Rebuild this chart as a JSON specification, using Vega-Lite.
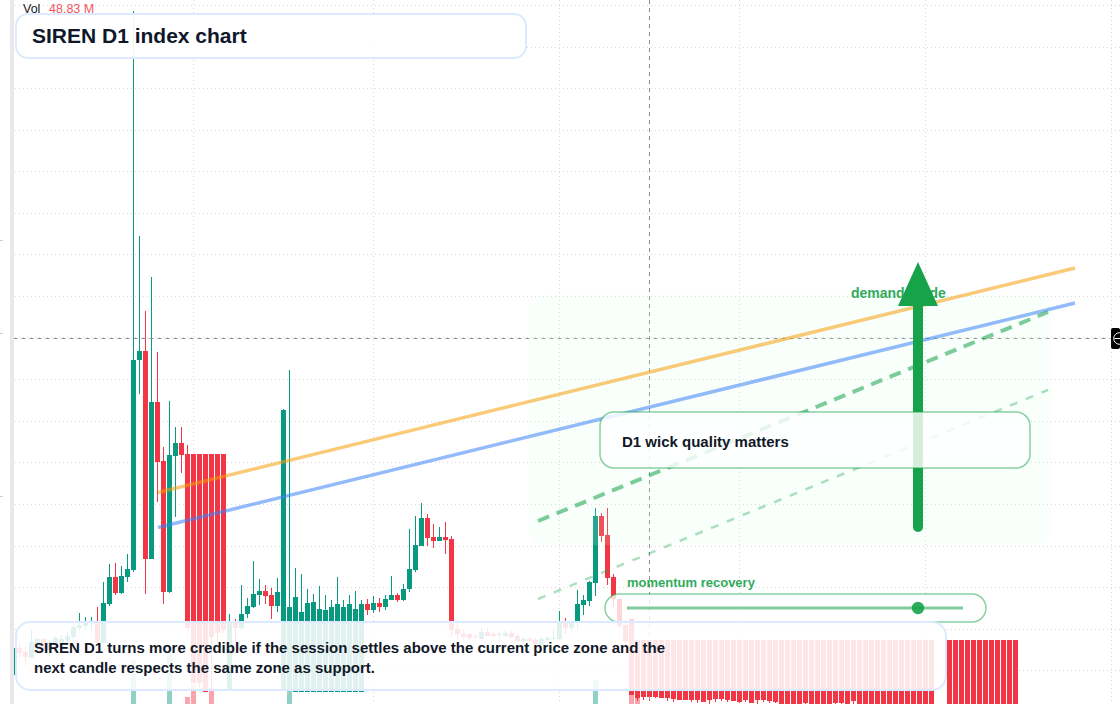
{
  "$schema": "https://vega.github.io/schema/vega-lite/v6.json",
  "width": 1120,
  "height": 704,
  "padding": 0,
  "autosize": {"type": "none"},
  "background": "#ffffff",
  "config": {
    "view": {"stroke": null},
    "axis": {"disable": true},
    "legend": {"disable": true},
    "text": {"font": "Liberation Sans"}
  },
  "datasets": {
    "candles": [
      {"t":0,"o":2.9,"h":5.6,"l":2.9,"c":5.6},{"t":1,"o":5.6,"h":6.2,"l":4.7,"c":5.1},{"t":2,"o":5.2,"h":5.7,"l":3.9,"c":4.7},{"t":3,"o":4.6,"h":7.4,"l":4.6,"c":6.2},
      {"t":4,"o":5.6,"h":6.6,"l":5.4,"c":6.5},{"t":5,"o":6.5,"h":6.6,"l":5.4,"c":5.4},{"t":6,"o":5.4,"h":6.4,"l":4.7,"c":6.2},{"t":7,"o":6.1,"h":6.8,"l":5.4,"c":6.6},
      {"t":8,"o":6.1,"h":6.9,"l":5.6,"c":6.5},{"t":9,"o":6.4,"h":7.2,"l":6.2,"c":6.8},{"t":10,"o":6.7,"h":8.0,"l":6.4,"c":7.7},{"t":11,"o":7.6,"h":9.1,"l":7.4,"c":7.9},
      {"t":12,"o":7.8,"h":8.7,"l":7.4,"c":8.2},{"t":13,"o":8.1,"h":8.7,"l":7.4,"c":8.3},{"t":14,"o":8.3,"h":9.7,"l":6.1,"c":6.1},{"t":15,"o":6.1,"h":12.2,"l":6.1,"c":10.1},
      {"t":16,"o":10.0,"h":14.0,"l":9.8,"c":12.7},{"t":17,"o":12.7,"h":14.1,"l":10.9,"c":11.1},{"t":18,"o":11.1,"h":13.8,"l":11.0,"c":12.8},{"t":19,"o":12.7,"h":15.0,"l":12.2,"c":13.5},
      {"t":20,"o":13.4,"h":69.3,"l":13.2,"c":34.4},{"t":21,"o":34.4,"h":46.8,"l":31.0,"c":35.3},{"t":22,"o":35.3,"h":39.3,"l":11.0,"c":14.5},{"t":23,"o":14.5,"h":42.7,"l":14.5,"c":30.2},
      {"t":24,"o":30.2,"h":35.2,"l":20.2,"c":24.2},{"t":25,"o":24.3,"h":25.7,"l":10.0,"c":11.2},{"t":26,"o":11.2,"h":30.3,"l":11.1,"c":24.9},{"t":27,"o":24.8,"h":27.7,"l":18.7,"c":26.1},
      {"t":28,"o":26.1,"h":27.7,"l":23.1,"c":24.9},{"t":29,"o":25.0,"h":25.9,"l":7.3,"c":7.6},{"t":30,"o":25.0,"h":25.0,"l":2.1,"c":2.1},{"t":31,"o":25.0,"h":25.0,"l":1.7,"c":2.1},
      {"t":32,"o":25.0,"h":25.0,"l":1.2,"c":1.2},{"t":33,"o":25.0,"h":25.0,"l":1.4,"c":6.7},{"t":34,"o":25.0,"h":25.0,"l":6.1,"c":7.1},{"t":35,"o":25.0,"h":25.0,"l":7.1,"c":7.4},
      {"t":36,"o":1.3,"h":9.0,"l":1.3,"c":8.2},{"t":37,"o":8.3,"h":8.5,"l":6.1,"c":7.6},{"t":38,"o":7.6,"h":11.9,"l":7.4,"c":9.0},{"t":39,"o":9.0,"h":10.6,"l":8.6,"c":9.8},
      {"t":40,"o":9.7,"h":14.3,"l":9.6,"c":11.0},{"t":41,"o":10.9,"h":12.5,"l":9.9,"c":11.3},{"t":42,"o":11.3,"h":11.9,"l":10.0,"c":10.8},{"t":43,"o":10.9,"h":11.6,"l":8.5,"c":9.8},
      {"t":44,"o":9.8,"h":12.6,"l":9.2,"c":11.2},{"t":45,"o":1.3,"h":29.5,"l":1.3,"c":29.4},{"t":46,"o":1.3,"h":33.4,"l":1.3,"c":9.7},{"t":47,"o":1.2,"h":13.6,"l":1.2,"c":10.7},
      {"t":48,"o":1.2,"h":13.0,"l":1.2,"c":9.2},{"t":49,"o":1.2,"h":11.5,"l":1.2,"c":10.1},{"t":50,"o":1.2,"h":11.0,"l":1.2,"c":10.2},{"t":51,"o":1.2,"h":11.8,"l":1.2,"c":9.5},
      {"t":52,"o":1.2,"h":10.9,"l":1.2,"c":9.4},{"t":53,"o":1.2,"h":10.4,"l":1.2,"c":9.7},{"t":54,"o":1.2,"h":12.7,"l":1.2,"c":10.0},{"t":55,"o":1.2,"h":10.4,"l":1.2,"c":9.7},
      {"t":56,"o":1.2,"h":10.9,"l":1.2,"c":10.0},{"t":57,"o":1.2,"h":11.3,"l":1.2,"c":9.5},{"t":58,"o":1.2,"h":10.4,"l":1.2,"c":10.0},{"t":59,"o":10.0,"h":10.5,"l":8.9,"c":9.4},
      {"t":60,"o":9.4,"h":10.8,"l":9.1,"c":10.1},{"t":61,"o":10.1,"h":10.6,"l":9.2,"c":9.7},{"t":62,"o":9.7,"h":10.9,"l":9.4,"c":10.5},{"t":63,"o":10.4,"h":12.8,"l":10.4,"c":10.9},
      {"t":64,"o":10.9,"h":11.1,"l":10.2,"c":10.4},{"t":65,"o":10.4,"h":12.0,"l":10.3,"c":11.5},{"t":66,"o":11.5,"h":17.5,"l":11.2,"c":13.5},{"t":67,"o":13.4,"h":18.8,"l":13.2,"c":15.9},
      {"t":68,"o":15.8,"h":20.1,"l":15.8,"c":18.6},{"t":69,"o":18.6,"h":19.0,"l":15.8,"c":16.6},{"t":70,"o":16.7,"h":18.0,"l":15.6,"c":16.3},{"t":71,"o":16.3,"h":17.7,"l":16.3,"c":16.7},
      {"t":72,"o":16.7,"h":18.2,"l":15.0,"c":16.4},{"t":73,"o":16.5,"h":16.8,"l":6.8,"c":7.4},{"t":74,"o":7.5,"h":8.0,"l":6.4,"c":7.0},{"t":75,"o":7.0,"h":7.4,"l":6.5,"c":6.7},
      {"t":76,"o":7.0,"h":7.1,"l":6.4,"c":6.6},{"t":77,"o":6.8,"h":7.0,"l":6.5,"c":6.7},{"t":78,"o":6.5,"h":7.6,"l":6.5,"c":7.2},{"t":79,"o":7.2,"h":7.5,"l":6.8,"c":6.8},
      {"t":80,"o":7.0,"h":7.3,"l":6.7,"c":6.8},{"t":81,"o":6.9,"h":7.3,"l":6.6,"c":7.0},{"t":82,"o":6.8,"h":7.3,"l":6.7,"c":7.1},{"t":83,"o":7.1,"h":7.3,"l":6.6,"c":6.7},
      {"t":84,"o":6.8,"h":7.0,"l":6.2,"c":6.3},{"t":85,"o":6.3,"h":6.7,"l":6.2,"c":6.5},{"t":86,"o":6.5,"h":6.7,"l":6.2,"c":6.3},{"t":87,"o":6.4,"h":6.6,"l":5.9,"c":6.0},
      {"t":88,"o":5.9,"h":6.7,"l":5.9,"c":6.5},{"t":89,"o":6.4,"h":6.8,"l":6.3,"c":6.6},{"t":90,"o":6.5,"h":7.6,"l":6.4,"c":6.6},{"t":91,"o":6.5,"h":9.3,"l":6.4,"c":8.2},
      {"t":92,"o":8.2,"h":8.6,"l":7.0,"c":7.6},{"t":93,"o":7.6,"h":8.2,"l":7.4,"c":8.2},{"t":94,"o":8.2,"h":11.4,"l":7.5,"c":10.0},{"t":95,"o":9.9,"h":10.9,"l":8.9,"c":10.4},
      {"t":96,"o":10.3,"h":12.3,"l":9.8,"c":12.2},{"t":97,"o":12.1,"h":19.6,"l":10.8,"c":18.8},{"t":98,"o":18.8,"h":19.1,"l":16.2,"c":16.8},{"t":99,"o":16.9,"h":19.6,"l":11.9,"c":12.6},
      {"t":100,"o":12.7,"h":13.0,"l":9.7,"c":10.5},{"t":101,"o":10.5,"h":10.5,"l":7.6,"c":7.8},{"t":102,"o":7.9,"h":8.4,"l":6.1,"c":6.3},{"t":103,"o":8.5,"h":8.5,"l":0.9,"c":0.9},
      {"t":104,"o":6.4,"h":6.4,"l":0.3,"c":0.6},{"t":105,"o":6.4,"h":6.4,"l":0.4,"c":0.7},{"t":106,"o":6.4,"h":6.4,"l":0.3,"c":0.7},{"t":107,"o":6.4,"h":6.4,"l":0.6,"c":0.7},
      {"t":108,"o":6.4,"h":6.4,"l":0.6,"c":0.6},{"t":109,"o":6.4,"h":6.4,"l":0.3,"c":0.6},{"t":110,"o":6.4,"h":6.4,"l":0.2,"c":0.5},{"t":111,"o":6.4,"h":6.4,"l":0.4,"c":0.4},
      {"t":112,"o":6.4,"h":6.4,"l":0.4,"c":0.4},{"t":113,"o":6.4,"h":6.4,"l":0.2,"c":0.4},{"t":114,"o":6.4,"h":6.4,"l":0.1,"c":0.4},{"t":115,"o":6.4,"h":6.4,"l":0.2,"c":0.2},
      {"t":116,"o":6.4,"h":6.4,"l":0,"c":0.4},{"t":117,"o":6.4,"h":6.4,"l":0.2,"c":0.5},{"t":118,"o":6.4,"h":6.4,"l":0.3,"c":0.5},{"t":119,"o":6.4,"h":6.4,"l":0.2,"c":0.4},
      {"t":120,"o":6.4,"h":6.4,"l":0.3,"c":0.3},{"t":121,"o":6.4,"h":6.4,"l":0.1,"c":0.2},{"t":122,"o":6.4,"h":6.4,"l":0.2,"c":0.4},{"t":123,"o":6.4,"h":6.4,"l":0.1,"c":0.1},
      {"t":124,"o":6.4,"h":6.4,"l":0,"c":0.4},{"t":125,"o":6.4,"h":6.4,"l":0.2,"c":0.4},{"t":126,"o":6.4,"h":6.4,"l":0.1,"c":0.3},{"t":127,"o":6.4,"h":6.4,"l":0.1,"c":0.2},
      {"t":128,"o":6.4,"h":6.4,"l":0,"c":0},{"t":129,"o":6.4,"h":6.4,"l":0,"c":0},{"t":130,"o":6.4,"h":6.4,"l":0,"c":0},{"t":131,"o":6.4,"h":6.4,"l":0,"c":0},
      {"t":132,"o":6.4,"h":6.4,"l":0,"c":0.1},{"t":133,"o":6.4,"h":6.4,"l":0,"c":0},{"t":134,"o":6.4,"h":6.4,"l":0,"c":0},{"t":135,"o":6.4,"h":6.4,"l":0,"c":0},
      {"t":136,"o":6.4,"h":6.4,"l":0,"c":0},{"t":137,"o":6.4,"h":6.4,"l":0,"c":0.1},{"t":138,"o":6.4,"h":6.4,"l":0,"c":0.1},{"t":139,"o":6.4,"h":6.4,"l":0,"c":0},
      {"t":140,"o":6.4,"h":6.4,"l":0,"c":0.3},{"t":141,"o":6.4,"h":6.4,"l":0,"c":0},{"t":142,"o":6.4,"h":6.4,"l":0,"c":0},{"t":143,"o":6.4,"h":6.4,"l":0,"c":0},
      {"t":144,"o":6.4,"h":6.4,"l":0,"c":0},{"t":145,"o":6.4,"h":6.4,"l":0,"c":0},{"t":146,"o":6.4,"h":6.4,"l":0,"c":0},{"t":147,"o":6.4,"h":6.4,"l":0,"c":0},
      {"t":148,"o":6.4,"h":6.4,"l":0,"c":0},{"t":149,"o":6.4,"h":6.4,"l":0,"c":0},{"t":150,"o":6.4,"h":6.4,"l":0,"c":0},{"t":151,"o":6.4,"h":6.4,"l":0,"c":0},
      {"t":152,"o":6.4,"h":6.4,"l":0,"c":0},{"t":153,"o":6.4,"h":6.4,"l":0,"c":0},
      {"t":156,"o":6.4,"h":6.4,"l":0,"c":0},{"t":157,"o":6.4,"h":6.4,"l":0,"c":0},{"t":158,"o":6.4,"h":6.4,"l":0,"c":0},{"t":159,"o":6.4,"h":6.4,"l":0,"c":0},
      {"t":160,"o":6.4,"h":6.4,"l":0,"c":0},{"t":161,"o":6.4,"h":6.4,"l":0,"c":0},{"t":162,"o":6.4,"h":6.4,"l":0,"c":0},{"t":163,"o":6.4,"h":6.4,"l":0,"c":0},
      {"t":164,"o":6.4,"h":6.4,"l":0,"c":0},{"t":165,"o":6.4,"h":6.4,"l":0,"c":0},{"t":166,"o":6.4,"h":6.4,"l":0,"c":0},{"t":167,"o":6.4,"h":6.4,"l":0,"c":0}
    ],
    "volume": [
      {"t":20,"v":4.4,"side":"up"},{"t":26,"v":5.2,"side":"up"},{"t":29,"v":0.7,"side":"down"},{"t":30,"v":1.9,"side":"down"},
      {"t":33,"v":1.6,"side":"down"},{"t":46,"v":2.4,"side":"up"},{"t":97,"v":2.4,"side":"up"},{"t":103,"v":0.9,"side":"down"},{"t":104,"v":0.6,"side":"down"}
    ]
  },
  "layer": [
    {
      "data": {"values": [{"p":69.85},{"p":65.65},{"p":61.55},{"p":57.35},{"p":53.25},{"p":49.05},{"p":44.95},{"p":40.75},{"p":36.65},{"p":32.45},{"p":28.25},{"p":24.15},{"p":19.95},{"p":15.75},{"p":11.65},{"p":7.45},{"p":3.35}]},
      "mark": {"type": "rule", "color": "#d9d9d9", "strokeWidth": 1, "strokeDash": [1, 3]},
      "encoding": {"y": {"field": "p", "type": "quantitative", "scale": {"domain": [0, 70.4], "nice": false, "zero": false, "padding": 0}}}
    },
    {
      "data": {"values": [{"t":30},{"t":60},{"t":91},{"t":121},{"t":152},{"t":183}]},
      "mark": {"type": "rule", "color": "#d9d9d9", "strokeWidth": 1, "strokeDash": [1, 3]},
      "encoding": {"x": {"field": "t", "type": "quantitative", "scale": {"domain": [-2.25, 184.4167], "nice": false, "zero": false, "padding": 0}}}
    },
    {
      "data": {"name": "candles"},
      "mark": {"type": "rule", "strokeWidth": 1},
      "encoding": {
        "x": {"field": "t", "type": "quantitative"},
        "y": {"field": "l", "type": "quantitative"},
        "y2": {"field": "h"},
        "color": {"condition": {"test": "datum.c >= datum.o", "value": "#089981"}, "value": "#f23645"}
      }
    },
    {
      "data": {"name": "candles"},
      "mark": {"type": "bar", "size": 5},
      "encoding": {
        "x": {"field": "t", "type": "quantitative"},
        "y": {"field": "o", "type": "quantitative"},
        "y2": {"field": "c"},
        "color": {"condition": {"test": "datum.c >= datum.o", "value": "#089981"}, "value": "#f23645"}
      }
    },
    {
      "data": {"name": "volume"},
      "mark": {"type": "bar", "size": 5, "opacity": 0.45},
      "encoding": {
        "x": {"field": "t", "type": "quantitative"},
        "y": {"field": "v", "type": "quantitative"},
        "y2": {"datum": 0},
        "color": {"condition": {"test": "datum.side == 'up'", "value": "#089981"}, "value": "#f23645"}
      }
    },
    {
      "data": {"values": [{"t":106}]},
      "mark": {"type": "rule", "color": "#8f8f8f", "strokeWidth": 1, "strokeDash": [4, 4]},
      "encoding": {"x": {"field": "t", "type": "quantitative"}}
    },
    {
      "data": {"values": [{"t0":0,"t1":182.9,"p":36.55}]},
      "mark": {"type": "rule", "color": "#8f8f8f", "strokeWidth": 1, "strokeDash": [4, 4]},
      "encoding": {
        "x": {"field": "t0", "type": "quantitative"},
        "x2": {"field": "t1"},
        "y": {"field": "p", "type": "quantitative"}
      }
    },
    {
      "data": {"values": [{"t0":85.75,"t1":173.08,"p0":15.9,"p1":40.9}]},
      "mark": {"type": "rect", "fill": "#d4ffe2", "opacity": 0.14, "cornerRadius": 16},
      "encoding": {
        "x": {"field": "t0", "type": "quantitative"},
        "x2": {"field": "t1"},
        "y": {"field": "p0", "type": "quantitative"},
        "y2": {"field": "p1"}
      }
    },
    {
      "data": {"values": [{"t":24.08,"p":21.15},{"t":176.92,"p":43.6}]},
      "mark": {"type": "line", "color": "#f59e0b", "opacity": 0.55, "strokeWidth": 3.5},
      "encoding": {"x": {"field": "t", "type": "quantitative"}, "y": {"field": "p", "type": "quantitative"}}
    },
    {
      "data": {"values": [{"t":24.08,"p":17.65},{"t":176.92,"p":40.1}]},
      "mark": {"type": "line", "color": "#3b82f6", "opacity": 0.55, "strokeWidth": 3.5},
      "encoding": {"x": {"field": "t", "type": "quantitative"}, "y": {"field": "p", "type": "quantitative"}}
    },
    {
      "data": {"values": [{"t":87.42,"p":18.3},{"t":172.42,"p":39.2}]},
      "mark": {"type": "line", "color": "#16a34a", "opacity": 0.55, "strokeWidth": 4, "strokeDash": [12, 8]},
      "encoding": {"x": {"field": "t", "type": "quantitative"}, "y": {"field": "p", "type": "quantitative"}}
    },
    {
      "data": {"values": [{"t":87.42,"p":10.5},{"t":172.42,"p":31.4}]},
      "mark": {"type": "line", "color": "#16a34a", "opacity": 0.35, "strokeWidth": 2.5, "strokeDash": [8, 9]},
      "encoding": {"x": {"field": "t", "type": "quantitative"}, "y": {"field": "p", "type": "quantitative"}}
    },
    {
      "data": {"values": [{"t":139.58,"p":40.6,"label":"demand guide"}]},
      "mark": {"type": "text", "align": "left", "baseline": "alphabetic", "fontSize": 14, "fontWeight": "bold", "color": "#16a34a", "opacity": 0.9},
      "encoding": {"x": {"field": "t", "type": "quantitative"}, "y": {"field": "p", "type": "quantitative"}, "text": {"field": "label"}}
    },
    {
      "data": {"values": [{"t":150.75,"p":17.7},{"t":150.75,"p":39.8}]},
      "mark": {"type": "line", "color": "#16a34a", "strokeWidth": 10, "strokeCap": "round"},
      "encoding": {"x": {"field": "t", "type": "quantitative"}, "y": {"field": "p", "type": "quantitative"}}
    },
    {
      "data": {"values": [{"t":150.75,"p":42}]},
      "mark": {"type": "point", "shape": "M0,-1.1L1,1.1L-1,1.1Z", "size": 1600, "filled": true, "fill": "#16a34a", "opacity": 1, "strokeWidth": 0},
      "encoding": {"x": {"field": "t", "type": "quantitative"}, "y": {"field": "p", "type": "quantitative"}}
    },
    {
      "data": {"values": [{"t0":97.75,"t1":169.42,"p0":23.6,"p1":29.2}]},
      "mark": {"type": "rect", "fill": "#ffffff", "fillOpacity": 0.82, "stroke": "#16a34a", "strokeOpacity": 0.5, "strokeWidth": 1.5, "cornerRadius": 14},
      "encoding": {
        "x": {"field": "t0", "type": "quantitative"},
        "x2": {"field": "t1"},
        "y": {"field": "p0", "type": "quantitative"},
        "y2": {"field": "p1"}
      }
    },
    {
      "data": {"values": [{"t":101.42,"p":25.7,"label":"D1 wick quality matters"}]},
      "mark": {"type": "text", "align": "left", "baseline": "alphabetic", "fontSize": 15, "fontWeight": "bold", "color": "#111827"},
      "encoding": {"x": {"field": "t", "type": "quantitative"}, "y": {"field": "p", "type": "quantitative"}, "text": {"field": "label"}}
    },
    {
      "data": {"values": [{"t0":98.58,"t1":162.08,"p0":8.2,"p1":11}]},
      "mark": {"type": "rect", "fill": "#ffffff", "fillOpacity": 0.8, "stroke": "#16a34a", "strokeOpacity": 0.5, "strokeWidth": 1.5, "cornerRadius": 14},
      "encoding": {
        "x": {"field": "t0", "type": "quantitative"},
        "x2": {"field": "t1"},
        "y": {"field": "p0", "type": "quantitative"},
        "y2": {"field": "p1"}
      }
    },
    {
      "data": {"values": [{"t":102.25,"p":9.6},{"t":158.25,"p":9.6}]},
      "mark": {"type": "line", "color": "#16a34a", "opacity": 0.55, "strokeWidth": 3},
      "encoding": {"x": {"field": "t", "type": "quantitative"}, "y": {"field": "p", "type": "quantitative"}}
    },
    {
      "data": {"values": [{"t":150.75,"p":9.6}]},
      "mark": {"type": "circle", "size": 154, "color": "#16a34a", "opacity": 0.9},
      "encoding": {"x": {"field": "t", "type": "quantitative"}, "y": {"field": "p", "type": "quantitative"}}
    },
    {
      "data": {"values": [{"t":102.25,"p":11.7,"label":"momentum recovery"}]},
      "mark": {"type": "text", "align": "left", "baseline": "alphabetic", "fontSize": 13, "fontWeight": "bold", "color": "#16a34a", "opacity": 0.9},
      "encoding": {"x": {"field": "t", "type": "quantitative"}, "y": {"field": "p", "type": "quantitative"}, "text": {"field": "label"}}
    },
    {
      "data": {"values": [{"t0":0.417,"t1":155.417,"p0":1.4,"p1":8.2}]},
      "mark": {"type": "rect", "fill": "#ffffff", "fillOpacity": 0.87, "stroke": "#dbeafe", "strokeWidth": 2, "cornerRadius": 14},
      "encoding": {
        "x": {"field": "t0", "type": "quantitative"},
        "x2": {"field": "t1"},
        "y": {"field": "p0", "type": "quantitative"},
        "y2": {"field": "p1"}
      }
    },
    {
      "data": {"values": [
        {"t":3.42,"p":5.1,"label":"SIREN D1 turns more credible if the session settles above the current price zone and the"},
        {"t":3.42,"p":3.1,"label":"next candle respects the same zone as support."}
      ]},
      "mark": {"type": "text", "align": "left", "baseline": "alphabetic", "fontSize": 15, "fontWeight": "bold", "color": "#111827"},
      "encoding": {"x": {"field": "t", "type": "quantitative"}, "y": {"field": "p", "type": "quantitative"}, "text": {"field": "label"}}
    },
    {
      "data": {"values": [{"t":1.58,"p":69.1,"label":"Vol"}]},
      "mark": {"type": "text", "align": "left", "baseline": "alphabetic", "fontSize": 12.5, "color": "#131722"},
      "encoding": {"x": {"field": "t", "type": "quantitative"}, "y": {"field": "p", "type": "quantitative"}, "text": {"field": "label"}}
    },
    {
      "data": {"values": [{"t":5.92,"p":69.1,"label":"48.83 M"}]},
      "mark": {"type": "text", "align": "left", "baseline": "alphabetic", "fontSize": 12.5, "color": "#f23645", "opacity": 0.85},
      "encoding": {"x": {"field": "t", "type": "quantitative"}, "y": {"field": "p", "type": "quantitative"}, "text": {"field": "label"}}
    },
    {
      "data": {"values": [{"t0":0.417,"t1":85.417,"p0":64.6,"p1":69}]},
      "mark": {"type": "rect", "fill": "#ffffff", "fillOpacity": 0.92, "stroke": "#dbeafe", "strokeWidth": 2, "cornerRadius": 12},
      "encoding": {
        "x": {"field": "t0", "type": "quantitative"},
        "x2": {"field": "t1"},
        "y": {"field": "p0", "type": "quantitative"},
        "y2": {"field": "p1"}
      }
    },
    {
      "data": {"values": [{"t":3.08,"p":66.1,"label":"SIREN D1 index chart"}]},
      "mark": {"type": "text", "align": "left", "baseline": "alphabetic", "fontSize": 21, "fontWeight": "bold", "color": "#0f172a"},
      "encoding": {"x": {"field": "t", "type": "quantitative"}, "y": {"field": "p", "type": "quantitative"}, "text": {"field": "label"}}
    },
    {
      "data": {"values": [{"t0":-2.25,"t1":-0.583,"p0":0,"p1":70.4}]},
      "mark": {"type": "rect", "fill": "#ffffff"},
      "encoding": {
        "x": {"field": "t0", "type": "quantitative"},
        "x2": {"field": "t1"},
        "y": {"field": "p0", "type": "quantitative"},
        "y2": {"field": "p1"}
      }
    },
    {
      "data": {"values": [{"t0":-0.583,"t1":0.083,"p0":0,"p1":70.4}]},
      "mark": {"type": "rect", "fill": "#e8e8e8"},
      "encoding": {
        "x": {"field": "t0", "type": "quantitative"},
        "x2": {"field": "t1"},
        "y": {"field": "p0", "type": "quantitative"},
        "y2": {"field": "p1"}
      }
    },
    {
      "data": {"values": [{"t0":-2.25,"t1":-1.75,"p":46.35},{"t0":-2.25,"t1":-1.75,"p":37.05},{"t0":-2.25,"t1":-1.75,"p":20.75}]},
      "mark": {"type": "rule", "color": "#cfcfcf", "strokeWidth": 1},
      "encoding": {
        "x": {"field": "t0", "type": "quantitative"},
        "x2": {"field": "t1"},
        "y": {"field": "p", "type": "quantitative"}
      }
    },
    {
      "data": {"values": [{"t0":182.92,"t1":184.4167,"p0":35.5,"p1":37.6}]},
      "mark": {"type": "rect", "fill": "#000000", "cornerRadius": 2},
      "encoding": {
        "x": {"field": "t0", "type": "quantitative"},
        "x2": {"field": "t1"},
        "y": {"field": "p0", "type": "quantitative"},
        "y2": {"field": "p1"}
      }
    },
    {
      "data": {"values": [{"t":184.33,"p":36.55}]},
      "mark": {"type": "point", "shape": "circle", "size": 133, "filled": false, "stroke": "#ffffff", "strokeWidth": 1, "opacity": 1},
      "encoding": {"x": {"field": "t", "type": "quantitative"}, "y": {"field": "p", "type": "quantitative"}}
    },
    {
      "data": {"values": [{"t0":183.5,"t1":184.4167,"p":36.55}]},
      "mark": {"type": "rule", "color": "#ffffff", "strokeWidth": 1},
      "encoding": {
        "x": {"field": "t0", "type": "quantitative"},
        "x2": {"field": "t1"},
        "y": {"field": "p", "type": "quantitative"}
      }
    }
  ]
}
